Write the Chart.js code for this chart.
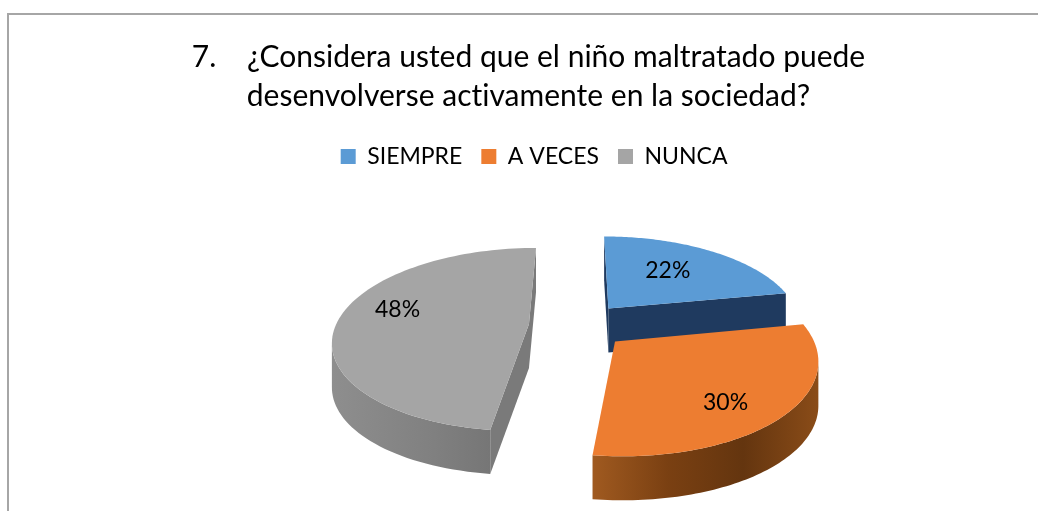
<!DOCTYPE html>
<html><head><meta charset="utf-8">
<style>
html,body{margin:0;padding:0;background:#fff;overflow:hidden;width:1038px;height:511px}
#wrap{position:absolute;left:8px;top:14px;width:1040px;height:497px;}
#frame{position:absolute;left:7px;top:13px;width:1100px;height:600px;border-left:2px solid #a6a6a6;border-top:2px solid #a6a6a6}
</style>
<script src="https://cdn.jsdelivr.net/npm/chart.js@4"></script>
</head><body>
<div id="frame"></div>
<div id="wrap"><canvas id="c"></canvas></div>
<script>
const titleLines = ['7.    ¿Considera usted que el niño maltratado puede','desenvolverse activamente en la sociedad?'];
const categories = ['SIEMPRE','A VECES','NUNCA'];
const values = [22,30,48];
const topColors = ['#5b9bd5','#ed7d31','#a5a5a5'];
const cutColors = ['#1f3a5f','#7a4012','#7a7a7a'];
const rimColors = [
  ['#1f3a5f','#1f3a5f'],
  ['#a05a20','#7a4012','#64350f','#8a4c18'],
  ['#8e8e8e','#808080','#6e6e6e']
];

/* perspective view of the pie plane */
const VIEW = {sx:1.978, sy:0.915, k:0.168, depth:44};
function project(el, X, Y){
  const s = 1/(1 - VIEW.k*Y/el.outerRadius);
  return {x: el.x + VIEW.sx*X*s, y: el.y + VIEW.sy*Y*s};
}
function slicePoint(el, angle, r){
  const mid = (el.startAngle+el.endAngle)/2, e = (el.options.offset||0)/4, R = el.outerRadius*r;
  return project(el, Math.cos(angle)*R + Math.cos(mid)*e, Math.sin(angle)*R + Math.sin(mid)*e);
}
class Arc3D extends Chart.ArcElement{
  static id='arc3d';
  static defaults={...Chart.ArcElement.defaults};
  static defaultRoutes=Chart.ArcElement.defaultRoutes;
  draw(ctx){
    const i = this.$context ? this.$context.dataIndex : 0;
    const n = 90, rim = [];
    for(let j=0;j<=n;j++) rim.push(slicePoint(this,this.startAngle+(this.endAngle-this.startAngle)*j/n,1));
    const apex = slicePoint(this,0,0);
    const d = VIEW.depth;
    const xs = rim.map(p=>p.x), minX=Math.min(...xs), maxX=Math.max(...xs);
    const stops = rimColors[i], g = ctx.createLinearGradient(minX,0,maxX,0);
    stops.forEach((c,k)=>g.addColorStop(k/(stops.length-1),c));
    const wall=(pts,fill)=>{
      ctx.beginPath();
      pts.forEach((p,k)=>k?ctx.lineTo(p.x,p.y):ctx.moveTo(p.x,p.y));
      for(let k=pts.length-1;k>=0;k--) ctx.lineTo(pts[k].x,pts[k].y+d);
      ctx.closePath();ctx.fillStyle=fill;ctx.fill();
    };
    ctx.save();
    if(rim[0].x<apex.x) wall([apex,rim[0]],cutColors[i]);
    if(apex.x<rim[n].x) wall([rim[n],apex],cutColors[i]);
    let run=[];
    for(let j=0;j<n;j++){
      if(rim[j+1].x<rim[j].x){ if(!run.length) run.push(rim[j]); run.push(rim[j+1]); }
      else if(run.length){ wall(run,g); run=[]; }
    }
    if(run.length) wall(run,g);
    ctx.beginPath();ctx.moveTo(apex.x,apex.y);rim.forEach(p=>ctx.lineTo(p.x,p.y));ctx.closePath();
    ctx.fillStyle=topColors[i];ctx.fill();
    ctx.restore();
  }
}
class Pie3D extends Chart.PieController{
  static id='pie3d';
  static defaults={dataElementType:'arc3d'};
}
Chart.register(Arc3D,Pie3D);

const labelPlugin={
  id:'pctLabels',
  afterDatasetsDraw(chart){
    const ctx=chart.ctx, arcs=chart.getDatasetMeta(0).data, total=values.reduce((a,b)=>a+b,0);
    const place=[[0.55,-5],[0.68,13],[0.69,-11]];
    ctx.save();ctx.font='23px Lato';ctx.fillStyle='#000';ctx.textAlign='center';ctx.textBaseline='middle';
    arcs.forEach((el,i)=>{
      const p=slicePoint(el,(el.startAngle+el.endAngle)/2,place[i][0]);
      ctx.fillText(Math.round(values[i]/total*100)+'%',p.x,p.y+place[i][1]);
    });
    ctx.restore();
  }
};
const boxShift={
  id:'boxShift',
  afterLayout(chart){
    chart.legend.left-=44;chart.legend.right-=44;
    chart.titleBlock.left-=49.5;chart.titleBlock.right-=49.5;
  },
  beforeDraw(chart){ chart.ctx.letterSpacing='0.01px'; }
};

new Chart(document.getElementById('c'),{
  type:'pie3d',
  data:{labels:categories,datasets:[{data:values,backgroundColor:topColors,borderWidth:0,offset:99.6,hoverOffset:0}]},
  plugins:[labelPlugin,boxShift],
  options:{
    responsive:true,maintainAspectRatio:false,animation:false,
    layout:{padding:{left:150,right:50,top:0,bottom:38}},
    plugins:{
      tooltip:{enabled:false},
      title:{display:true,text:titleLines,color:'#000',font:{family:'Lato',size:30,weight:'normal',lineHeight:1.3},padding:{top:24,bottom:10}},
      legend:{position:'top',labels:{color:'#000',font:{family:'Lato',size:23},boxWidth:15,boxHeight:15,padding:19}}
    }
  }
});
</script>
</body></html>
